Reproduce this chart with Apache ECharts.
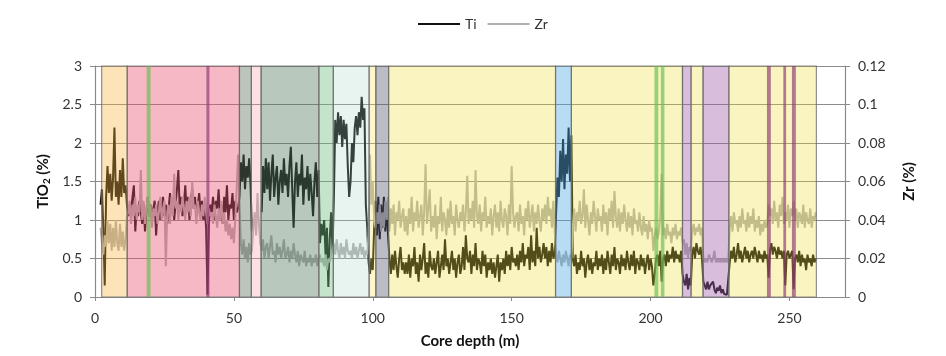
<!DOCTYPE html>
<html>
<head>
<meta charset="utf-8">
<script src="https://cdn.jsdelivr.net/npm/echarts@6/dist/echarts.min.js"></script>
<style>
html,body{margin:0;padding:0;background:#fff;}
#chart{width:946px;height:356px;}
</style>
</head>
<body>
<div id="chart"></div>
<script>
// Sampling grid of the core (m)
const depthStart = 2;
const depthStep = 0.5;

// TiO2 (%) — left axis, one value per 0.5 m from 2 m
const tiValues = [
  1.2,1.4,0.9,0.15,1.3,1.7,1.35,1.6,1.25,1.55,2.2,1.3,1.5,1.2,1.65,1.3,1.8,1.35,1.45,1.2,
  1.05,1.2,1.1,1.3,1.45,0.85,1.15,1.05,1.25,1.1,0.95,1.2,0.85,1.1,1.3,1.05,1.2,1.0,1.15,1.25,
  0.8,1.1,1.25,1.0,1.15,1.3,1.05,1.2,0.95,1.15,1.35,1.1,1.25,1.0,1.2,1.4,1.65,1.15,1.3,1.05,
  1.2,1.45,1.1,1.3,1.0,1.25,1.4,1.15,1.3,1.05,1.2,1.35,1.1,1.25,1.0,1.15,0.9,0.03,0.95,1.2,
  1.1,1.3,1.0,1.25,1.15,1.4,1.05,1.2,0.95,1.3,1.1,1.45,1.0,1.2,1.15,1.35,1.0,1.25,1.1,1.15,
  1.3,1.75,1.5,1.85,1.4,1.7,1.55,1.8,1.45,0.85,null,null,null,null,null,null,1.1,1.7,1.35,1.8,
  1.4,1.75,1.25,1.6,1.85,1.3,1.55,1.7,1.2,1.5,1.65,1.35,1.8,1.45,1.6,1.3,1.7,1.95,1.4,0.9,
  1.5,1.75,1.3,1.6,1.45,1.85,1.2,1.55,1.4,1.7,1.25,1.6,1.35,1.05,1.5,1.75,1.3,1.65,0.7,0.95,
  0.8,1.0,0.55,0.9,0.13,0.75,1.1,0.6,1.3,2.3,2.0,2.4,2.1,2.35,1.95,2.3,2.05,2.25,1.7,1.3,
  1.5,2.0,1.75,2.2,2.35,2.1,2.4,2.2,2.6,2.3,2.45,1.2,0.9,0.45,0.3,0.5,0.35,0.9,1.25,0.8,
  1.3,0.75,1.2,0.9,1.3,0.85,1.2,0.8,0.5,0.3,0.55,0.35,0.6,0.4,0.25,0.5,0.65,0.35,0.45,0.3,
  0.45,0.3,0.55,0.25,0.5,0.4,0.65,0.3,0.45,0.2,0.55,0.35,0.5,0.7,0.3,0.45,0.25,0.6,0.4,0.35,
  0.5,0.3,0.45,0.6,0.25,0.4,0.55,0.35,0.75,0.4,0.5,0.3,0.45,0.6,0.35,0.5,0.25,0.45,0.55,0.3,
  0.4,0.65,0.35,0.8,0.5,0.45,0.6,0.3,0.55,0.4,0.7,0.35,0.5,0.45,0.3,0.6,0.4,0.55,0.25,0.45,
  0.35,0.5,0.3,0.45,0.25,0.4,0.55,0.2,0.45,0.35,0.5,0.3,0.6,0.4,0.55,0.35,0.65,0.45,0.5,0.4,
  0.55,0.35,0.6,0.45,0.7,0.4,0.55,0.5,0.65,0.35,0.8,0.45,0.6,0.4,0.9,0.5,0.65,0.45,0.55,0.7,
  0.5,0.65,0.4,0.6,0.45,0.7,0.5,0.55,1.1,1.55,1.3,1.9,1.5,2.05,1.4,1.85,1.6,2.2,1.5,2.1,
  0.5,0.4,0.55,0.3,0.45,0.35,0.6,0.4,0.5,0.25,0.45,0.55,0.35,0.5,0.3,0.45,0.4,0.6,0.35,0.5,
  0.4,0.55,0.3,0.5,0.35,0.6,0.45,0.3,0.55,0.4,0.65,0.35,0.5,0.45,0.3,0.55,0.4,0.5,0.35,0.6,
  0.45,0.35,0.55,0.4,0.6,0.3,0.5,0.45,0.35,0.55,0.4,0.5,0.3,0.45,0.55,0.35,0.5,0.4,0.15,0.3,
  0.5,0.55,0.4,0.6,0.2,0.5,0.55,0.4,0.6,0.45,0.55,0.5,0.65,0.45,0.6,0.5,0.55,0.45,0.6,0.3,
  0.2,0.15,0.3,0.1,0.25,0.15,0.55,0.65,0.5,0.7,0.6,0.55,0.65,0.5,0.2,0.15,0.1,0.2,0.1,0.15,
  0.15,0.2,0.1,0.05,0.12,0.08,0.15,0.05,0.1,0.04,0.06,0.03,0.05,0.45,0.6,0.5,0.65,0.45,0.55,0.7,
  0.5,0.6,0.45,0.55,0.65,0.5,0.6,0.45,0.55,0.6,0.5,0.65,0.55,0.45,0.6,0.5,0.55,0.45,0.6,0.5,
  0.55,0.25,0.6,0.7,0.55,0.65,0.6,0.5,0.65,0.55,0.6,0.5,0.6,0.15,0.55,0.6,0.5,0.55,0.6,0.1,
  0.5,0.55,0.45,0.6,0.4,0.55,0.45,0.5,0.35,0.55,0.45,0.5,0.4,0.55,0.45,0.5
];

// Zr (%) — right axis, one value per 0.5 m from 2 m
const zrValues = [
  0.036,0.028,0.022,0.032,0.026,0.040,0.028,0.038,0.024,0.036,0.026,0.040,0.028,0.024,0.038,0.026,0.034,0.024,0.030,0.042,
  0.044,0.050,0.038,0.048,0.042,0.052,0.040,0.048,0.044,0.066,0.040,0.050,0.038,0.046,0.052,0.042,0.048,0.036,0.046,0.042,
  0.048,0.038,0.044,0.052,0.040,0.046,0.050,0.016,0.044,0.048,0.038,0.052,0.042,0.064,0.046,0.050,0.040,0.048,0.044,0.052,
  0.046,0.040,0.050,0.044,0.052,0.042,0.060,0.046,0.048,0.038,0.050,0.044,0.040,0.048,0.042,0.052,0.044,0.038,0.046,0.042,
  0.044,0.038,0.048,0.042,0.036,0.046,0.040,0.050,0.038,0.044,0.034,0.040,0.032,0.038,0.030,0.036,0.028,0.040,0.056,0.074,
  0.048,0.028,0.022,0.030,0.020,0.026,0.018,0.028,0.022,0.024,0.036,0.044,0.032,0.054,0.038,0.028,0.024,0.030,0.020,0.026,
  0.028,0.020,0.026,0.032,0.022,0.024,0.018,0.028,0.022,0.026,0.020,0.024,0.030,0.020,0.022,0.026,0.018,0.024,0.020,0.028,
  0.022,0.018,0.024,0.016,0.022,0.020,0.018,0.024,0.016,0.020,0.018,0.022,0.016,0.020,0.018,0.022,0.016,0.020,0.022,0.018,
  0.020,0.016,0.022,0.014,0.020,0.018,0.022,0.024,0.028,0.022,0.030,0.024,0.020,0.028,0.022,0.026,0.020,0.030,0.024,0.022,
  0.024,0.020,0.028,0.022,0.026,0.020,0.024,0.028,0.022,0.026,0.020,0.024,0.022,0.032,0.074,0.048,0.060,0.040,0.036,0.044,
  0.038,0.048,0.034,0.044,0.036,0.050,0.040,0.052,0.034,0.046,0.038,0.048,0.032,0.044,0.040,0.050,0.036,0.042,0.046,0.034,
  0.042,0.032,0.046,0.038,0.052,0.034,0.044,0.040,0.050,0.036,0.042,0.048,0.032,0.044,0.069,0.038,0.046,0.056,0.034,0.042,
  0.036,0.048,0.030,0.042,0.038,0.052,0.034,0.044,0.040,0.032,0.046,0.036,0.050,0.038,0.042,0.032,0.048,0.040,0.036,0.044,
  0.040,0.048,0.034,0.044,0.063,0.038,0.046,0.040,0.050,0.036,0.066,0.042,0.038,0.048,0.034,0.044,0.040,0.052,0.036,0.042,
  0.038,0.046,0.032,0.042,0.048,0.036,0.044,0.034,0.050,0.040,0.036,0.046,0.042,0.032,0.048,0.038,0.068,0.044,0.036,0.042,
  0.044,0.034,0.048,0.038,0.042,0.032,0.046,0.040,0.050,0.036,0.042,0.048,0.034,0.044,0.038,0.048,0.040,0.034,0.046,0.040,
  0.048,0.038,0.052,0.042,0.046,0.036,0.050,0.034,0.022,0.018,0.024,0.020,0.016,0.022,0.018,0.024,0.020,0.016,0.022,0.020,
  0.036,0.046,0.034,0.044,0.040,0.050,0.038,0.042,0.056,0.036,0.048,0.040,0.032,0.044,0.038,0.050,0.042,0.034,0.046,0.040,
  0.042,0.034,0.048,0.038,0.044,0.032,0.046,0.040,0.050,0.036,0.055,0.042,0.036,0.046,0.034,0.044,0.038,0.048,0.040,0.034,
  0.044,0.036,0.042,0.032,0.046,0.038,0.040,0.034,0.044,0.036,0.032,0.042,0.034,0.038,0.030,0.040,0.034,0.036,0.024,0.032,
  0.036,0.030,0.034,0.042,0.064,0.032,0.036,0.030,0.038,0.032,0.034,0.028,0.036,0.032,0.038,0.030,0.034,0.032,0.036,0.028,
  0.030,0.022,0.028,0.020,0.026,0.024,0.034,0.038,0.032,0.036,0.034,0.038,0.032,0.036,0.020,0.018,0.020,0.018,0.022,0.020,
  0.018,0.020,0.024,0.018,0.020,0.018,0.020,0.018,0.020,0.018,0.020,0.018,0.020,0.036,0.042,0.034,0.044,0.038,0.040,0.034,
  0.042,0.036,0.046,0.038,0.040,0.034,0.044,0.036,0.042,0.038,0.046,0.034,0.040,0.036,0.042,0.032,0.038,0.034,0.040,0.036,
  0.038,0.048,0.042,0.046,0.038,0.050,0.040,0.044,0.036,0.048,0.042,0.052,0.038,0.044,0.040,0.048,0.036,0.046,0.042,0.050,
  0.040,0.046,0.036,0.044,0.042,0.038,0.048,0.036,0.044,0.040,0.038,0.046,0.036,0.042,0.040,0.044
];

// Facies intervals (m)
const bandStart  = [2.4, 11.6, 18.6, 40.1, 52.0, 56.3, 59.8, 80.6, 85.8, 98.7, 101.1, 105.7, 165.8, 171.5, 201.4, 203.7, 211.5, 214.6, 218.9, 228.2, 241.9, 247.8, 250.9];
const bandEnd    = [11.6, 52.0, 20.0, 41.2, 56.3, 59.8, 80.6, 85.8, 98.7, 101.1, 105.7, 165.8, 171.5, 211.5, 202.8, 205.0, 214.6, 218.9, 228.2, 259.7, 243.3, 248.8, 252.3];
const bandFacies = ['orange','pink','greenLine','purpleLine','grey','lightPink','greyGreen','green','cyan','lightYellow','greyBlue','yellow','blue','yellow','greenLine','greenLine','purple','yellow','purple','yellow','purpleLine','purpleLine','purpleLine'];

const xTicks = [0, 50, 100, 150, 200, 250];

// styles
const faciesFill = {
  orange: 'rgba(246,178,52,0.35)',
  pink: 'rgba(232,77,107,0.40)',
  grey: 'rgba(87,107,87,0.40)',
  lightPink: 'rgba(245,152,165,0.30)',
  greyGreen: 'rgba(77,117,87,0.40)',
  green: 'rgba(107,187,127,0.40)',
  cyan: 'rgba(163,211,195,0.25)',
  lightYellow: 'rgba(245,225,88,0.30)',
  greyBlue: 'rgba(87,87,107,0.40)',
  yellow: 'rgba(238,218,45,0.30)',
  blue: 'rgba(77,167,227,0.40)',
  purple: 'rgba(157,92,167,0.40)',
  greenLine: 'rgba(100,190,80,0.65)',
  purpleLine: 'rgba(140,55,115,0.65)'
};
const thinFacies = {greenLine: true, purpleLine: true};

const tiData = tiValues.map((v, i) => [depthStart + i * depthStep, v]);
const zrData = zrValues.map((v, i) => [depthStart + i * depthStep, v]);
const bandData = bandStart.map((s, i) => [s, bandEnd[i]]);

const chart = echarts.init(document.getElementById('chart'), null, {renderer: 'canvas'});
const FONT = 'Lato, "Open Sans", sans-serif';

chart.setOption({
  animation: false,
  backgroundColor: '#ffffff',
  textStyle: {fontFamily: FONT},
  legend: {
    data: [{name: 'Ti', icon: 'rect'}, {name: 'Zr', icon: 'rect'}],
    left: 413,
    top: 12,
    itemWidth: 42,
    itemHeight: 2,
    itemGap: 11,
    textStyle: {fontSize: 14, color: '#333', fontFamily: FONT}
  },
  grid: {left: 95, right: 101, top: 66, bottom: 59, containLabel: false},
  xAxis: {
    type: 'value',
    min: 0, max: 270, interval: 50,
    name: 'Core depth (m)',
    nameLocation: 'middle',
    nameGap: 37,
    nameTextStyle: {fontSize: 15, fontWeight: 'bold', color: '#111', fontFamily: FONT},
    axisLine: {show: true, onZero: false, lineStyle: {color: '#8a8a8a', width: 1.2}},
    axisTick: {show: true, length: 4, lineStyle: {color: '#8a8a8a'}},
    axisLabel: {fontSize: 14, color: '#333', margin: 14, showMaxLabel: false,
      formatter: v => xTicks.indexOf(v) >= 0 ? String(v) : ''},
    splitLine: {show: false}
  },
  yAxis: [
    {
      type: 'value', min: 0, max: 3, interval: 0.5, position: 'left',
      name: 'TiO{sub|2} (%)',
      nameLocation: 'middle', nameGap: 40, nameRotate: 90,
      nameTextStyle: {fontSize: 15, fontWeight: 'bold', color: '#111', fontFamily: FONT,
        rich: {sub: {fontSize: 10, fontWeight: 'bold', color: '#111', verticalAlign: 'bottom', padding: [6, 0, 0, 0], fontFamily: FONT}}},
      axisLine: {show: true, lineStyle: {color: '#8a8a8a', width: 1.2}},
      axisTick: {show: true, length: 5, lineStyle: {color: '#8a8a8a'}},
      axisLabel: {fontSize: 14, color: '#333', margin: 13},
      splitLine: {show: true, lineStyle: {color: '#8c8c8c', width: 1.2}}
    },
    {
      type: 'value', min: 0, max: 0.12, interval: 0.02, position: 'right',
      name: 'Zr (%)',
      nameLocation: 'middle', nameGap: 57, nameRotate: 90,
      nameTextStyle: {fontSize: 15, fontWeight: 'bold', color: '#111', fontFamily: FONT},
      axisLine: {show: true, lineStyle: {color: '#8a8a8a', width: 1.2}},
      axisTick: {show: true, length: 5, lineStyle: {color: '#8a8a8a'}},
      axisLabel: {fontSize: 14, color: '#333', margin: 13},
      splitLine: {show: false}
    }
  ],
  series: [
    {
      name: 'Ti', type: 'line', yAxisIndex: 0, data: tiData,
      symbol: 'none', showSymbol: false, connectNulls: false, z: 2,
      color: '#111111',
      lineStyle: {color: '#111111', width: 2}
    },
    {
      name: 'Zr', type: 'line', yAxisIndex: 1, data: zrData,
      symbol: 'none', showSymbol: false, z: 2,
      color: '#b0b0b0',
      lineStyle: {color: '#b0b0b0', width: 2}
    },
    {
      name: 'facies', type: 'custom', yAxisIndex: 0, data: bandData,
      silent: true, z: 5,
      encode: {x: [0, 1]},
      renderItem: function (params, api) {
        const s = api.value(0), e = api.value(1);
        const p0 = api.coord([s, 3]);
        const p1 = api.coord([e, 0]);
        const key = bandFacies[params.dataIndex];
        const thin = !!thinFacies[key];
        return {
          type: 'rect',
          shape: {x: p0[0], y: p0[1], width: p1[0] - p0[0], height: p1[1] - p0[1]},
          style: {
            fill: faciesFill[key],
            stroke: thin ? null : 'rgba(105,105,105,0.75)',
            lineWidth: thin ? 0 : 1.2
          }
        };
      }
    }
  ]
});
</script>
</body>
</html>
